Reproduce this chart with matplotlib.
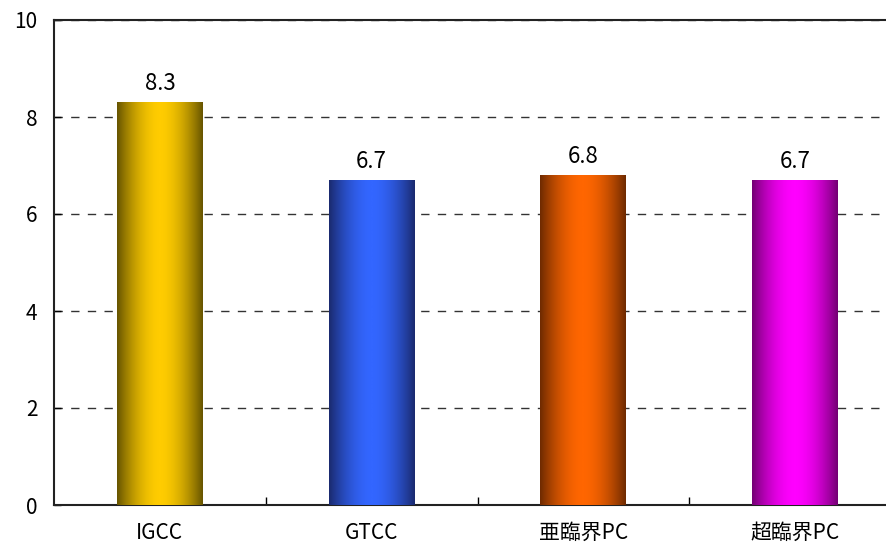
import numpy as np
import matplotlib
matplotlib.use("Agg")
import matplotlib.pyplot as plt
from matplotlib.colors import LinearSegmentedColormap
from matplotlib.patches import Rectangle

FONT = ['Noto Sans CJK JP', 'DejaVu Sans']
plt.rcParams['font.family'] = FONT

categories = ["IGCC", "GTCC", "亜臨界PC", "超臨界PC"]
values = [8.3, 6.7, 6.8, 6.7]
labels = ["8.3", "6.7", "6.8", "6.7"]
dark_colors = ["#665400", "#1a2a6e", "#6e2a00", "#730073"]
bright_colors = ["#ffcc00", "#3366ff", "#ff6600", "#ff00ff"]
yticks = [0, 2, 4, 6, 8, 10]

W, H = 886, 545
fig = plt.figure(figsize=(W/100, H/100), dpi=100)
ax = fig.add_axes([54/W, 1-505/H, 847/W, 485/H])

x = np.arange(len(categories))
bw = 0.405
bars = ax.bar(x, values, width=bw, color='none', zorder=3)
grad = np.abs(np.linspace(-1, 1, 256))
grad = 1 - grad**1.8
for b, dc, bc in zip(bars, dark_colors, bright_colors):
    cmap = LinearSegmentedColormap.from_list('g', [dc, bc])
    x0 = b.get_x(); w = b.get_width(); h = b.get_height()
    im = ax.imshow(grad[np.newaxis, :], cmap=cmap, aspect='auto',
                   extent=[x0, x0 + w, 0, h], zorder=3, interpolation='bilinear',
                   vmin=0, vmax=1)
    clip = Rectangle((x0, 0), w, h, transform=ax.transData)
    im.set_clip_path(clip)

for xi, v, t in zip(x, values, labels):
    ax.text(xi, v + 0.15, t, ha='center', va='bottom', fontsize=16)

ax.set_xlim(-0.5, len(categories) - 0.5)
ax.set_ylim(0, 10)
ax.set_yticks(yticks)
ax.set_yticklabels([str(t) for t in yticks], fontsize=15)
ax.set_xticks(x)
ax.set_xticklabels(categories, fontsize=15)
ax.tick_params(axis='x', length=0, pad=12)
ax.set_xticks(np.arange(0.5, len(categories) - 0.5, 1), minor=True)
ax.tick_params(axis='x', which='minor', direction='in', length=6, width=1)
ax.tick_params(axis='y', direction='in', length=5, width=1, pad=12)

ax.yaxis.grid(True, linestyle=(0, (6, 6)), color='#333333', linewidth=1, zorder=0)
ax.set_axisbelow(True)
for s in ['left', 'bottom', 'top']:
    ax.spines[s].set_linewidth(1.5)
    ax.spines[s].set_color('#222222')
ax.spines['right'].set_visible(False)

fig.savefig("out.png", dpi=100)
